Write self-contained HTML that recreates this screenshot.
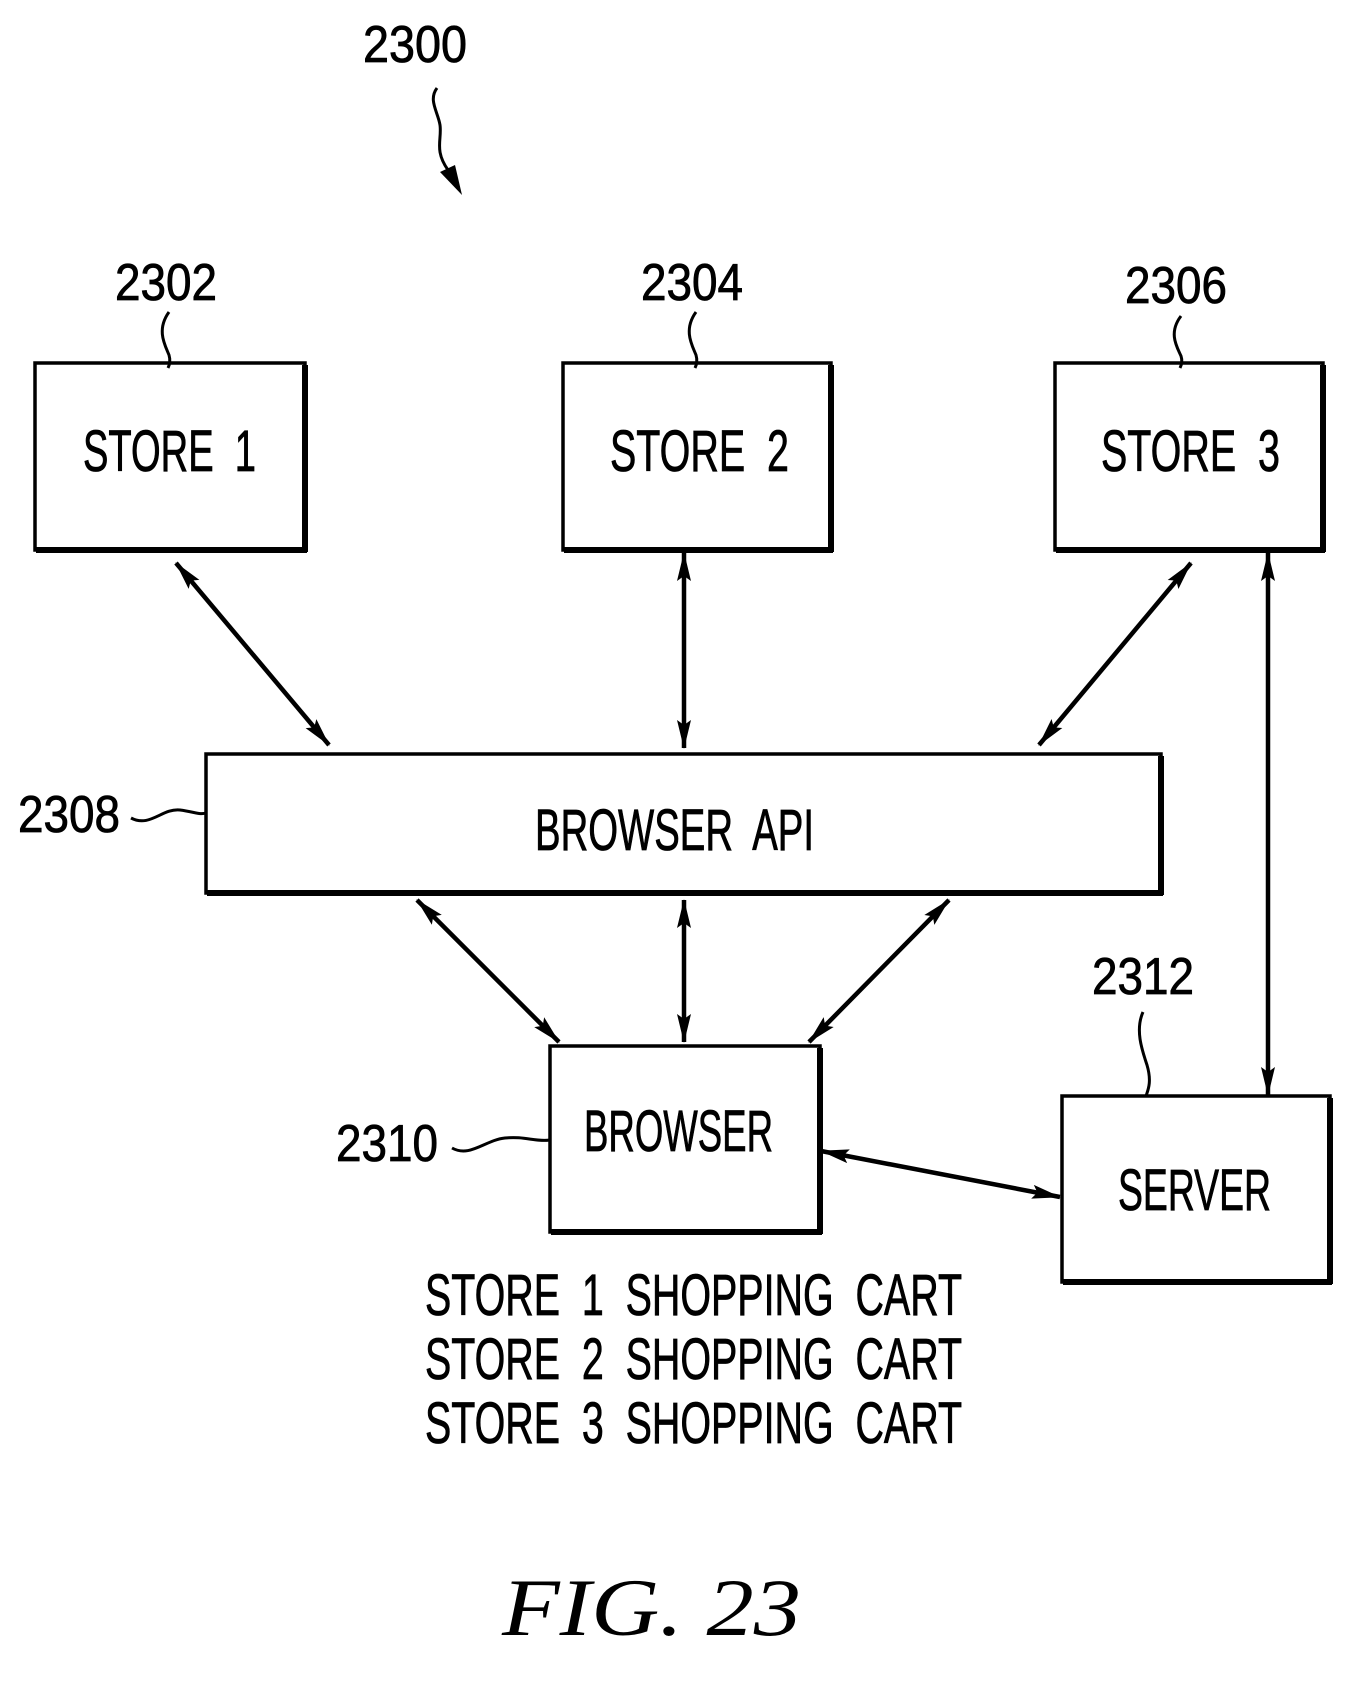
<!DOCTYPE html>
<html><head><meta charset="utf-8"><style>
html,body{margin:0;padding:0;background:#fff;}
svg{display:block;}
text{font-family:"Liberation Sans",sans-serif;fill:#000;white-space:pre;}
</style></head><body>
<svg width="1357" height="1681" viewBox="0 0 1357 1681" xmlns="http://www.w3.org/2000/svg" xml:space="preserve">
<defs>
<marker id="a" markerWidth="30" markerHeight="16" refX="28" refY="8" orient="auto-start-reverse" markerUnits="userSpaceOnUse">
<path d="M0,1 L29,8 L0,15 L5,8 Z" fill="#000"/>
</marker>
</defs>
<g fill="none" stroke="#000" stroke-width="3.5">
<rect x="35" y="363" width="270" height="187"/>
<rect x="563" y="363" width="268" height="187"/>
<rect x="1055" y="363" width="268" height="187"/>
<rect x="206" y="754" width="955" height="139"/>
<rect x="550" y="1046" width="270" height="186"/>
<rect x="1062" y="1096" width="268" height="186"/>
</g>
<g stroke="#000" stroke-width="6">
<line x1="36" y1="550" x2="307" y2="550"/><line x1="305" y1="365" x2="305" y2="552"/>
<line x1="564" y1="550" x2="833" y2="550"/><line x1="831" y1="365" x2="831" y2="552"/>
<line x1="1056" y1="550" x2="1325" y2="550"/><line x1="1323" y1="365" x2="1323" y2="552"/>
<line x1="207" y1="893" x2="1163" y2="893"/><line x1="1161" y1="756" x2="1161" y2="895"/>
<line x1="551" y1="1232" x2="822" y2="1232"/><line x1="820" y1="1048" x2="820" y2="1234"/>
<line x1="1063" y1="1282" x2="1332" y2="1282"/><line x1="1330" y1="1098" x2="1330" y2="1284"/>
</g>
<g stroke="#000" stroke-width="4.5" fill="none" marker-start="url(#a)" marker-end="url(#a)">
<line x1="176" y1="563" x2="329" y2="745"/>
<line x1="684" y1="553" x2="684" y2="748"/>
<line x1="1191" y1="563" x2="1039" y2="745"/>
<line x1="1268" y1="553" x2="1268" y2="1095"/>
<line x1="417" y1="900" x2="559" y2="1042"/>
<line x1="684" y1="900" x2="684" y2="1042"/>
<line x1="949" y1="900" x2="809" y2="1042"/>
<line x1="821" y1="1151" x2="1060" y2="1197"/>
</g>
<g stroke="#000" stroke-width="3" fill="none">
<path d="M169,312 C156,330 165,345 169,355 C171,362 169,366 168,368"/>
<path d="M696,312 C683,330 692,345 696,355 C698,362 696,366 695,368"/>
<path d="M1181,316 C1168,333 1177,347 1181,356 C1183,362 1181,366 1180,368"/>
<path d="M131,818 C150,828 162,808 180,810 C195,812 200,815 206,813"/>
<path d="M452,1148 C470,1158 485,1140 505,1138 C525,1136 535,1142 550,1140"/>
<path d="M1143,1012 C1135,1030 1142,1050 1147,1065 C1152,1082 1148,1090 1146,1096"/>
<path d="M437,88 C428,100 438,112 440,125 C442,140 434,150 448,170"/>
</g>
<path d="M462,195 L440,172 L455,165 Z" fill="#000"/>
<g font-size="52" stroke="#000" stroke-width="0.8">
<text x="363" y="62" textLength="104" lengthAdjust="spacingAndGlyphs">2300</text>
<text x="115" y="300" textLength="102" lengthAdjust="spacingAndGlyphs">2302</text>
<text x="641" y="300" textLength="102" lengthAdjust="spacingAndGlyphs">2304</text>
<text x="1125" y="303" textLength="102" lengthAdjust="spacingAndGlyphs">2306</text>
<text x="18" y="832" textLength="102" lengthAdjust="spacingAndGlyphs">2308</text>
<text x="336" y="1161" textLength="102" lengthAdjust="spacingAndGlyphs">2310</text>
<text x="1092" y="994" textLength="102" lengthAdjust="spacingAndGlyphs">2312</text>
</g>
<g font-size="58" stroke="#000" stroke-width="0.8">
<text x="83" y="471" textLength="173" lengthAdjust="spacingAndGlyphs">STORE  1</text>
<text x="610" y="471" textLength="179" lengthAdjust="spacingAndGlyphs">STORE  2</text>
<text x="1101" y="471" textLength="179" lengthAdjust="spacingAndGlyphs">STORE  3</text>
<text x="535" y="850" textLength="279" lengthAdjust="spacingAndGlyphs">BROWSER  API</text>
<text x="584" y="1151" textLength="189" lengthAdjust="spacingAndGlyphs">BROWSER</text>
<text x="1118" y="1210" textLength="153" lengthAdjust="spacingAndGlyphs">SERVER</text>
<text x="425" y="1315" textLength="537" lengthAdjust="spacingAndGlyphs">STORE  1  SHOPPING  CART</text>
<text x="425" y="1379" textLength="537" lengthAdjust="spacingAndGlyphs">STORE  2  SHOPPING  CART</text>
<text x="425" y="1443" textLength="537" lengthAdjust="spacingAndGlyphs">STORE  3  SHOPPING  CART</text>
</g>
<text x="502" y="1635" font-size="82" font-style="italic" style="font-family:'Liberation Serif',serif" textLength="299" lengthAdjust="spacingAndGlyphs">FIG. 23</text>
</svg>
</body></html>
